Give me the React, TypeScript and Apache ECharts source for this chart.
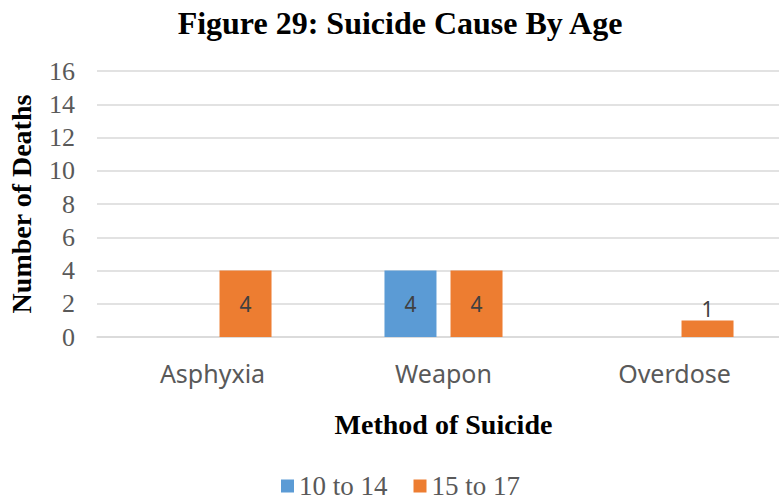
import React, { useEffect, useRef } from "react";
import * as echarts from "echarts";

const categories = ["Asphyxia", "Weapon", "Overdose"];
const seriesNames = ["10 to 14", "15 to 17"];
const age10to14 = [0, 4, 0];
const age15to17 = [4, 4, 1];
const yTicks = { min: 0, max: 16, interval: 2 };

const colors = ["#5B9BD5", "#ED7D31"];
const serif = "'Liberation Serif', 'Times New Roman', serif";
const sans = "'Noto Sans', 'Open Sans', sans-serif";

function buildData(values: number[]) {
  return values.map((v) => {
    if (!v) return { value: "-" };
    const small = v < 2;
    return {
      value: v,
      label: {
        show: true,
        position: small ? "top" : "inside",
        distance: 1,
        formatter: "{c}",
        color: "#404040",
        fontFamily: sans,
        fontSize: 21,
      },
    };
  });
}

export default function App() {
  const ref = useRef<HTMLDivElement>(null);
  useEffect(() => {
    if (!ref.current) return;
    const chart = echarts.init(ref.current, null, { renderer: "svg" });
    chart.setOption({
      animation: false,
      backgroundColor: "#ffffff",
      color: colors,
      title: {
        text: "Figure 29: Suicide Cause By Age",
        left: 395,
        top: 2,
        textAlign: "center",
        textStyle: { fontFamily: serif, fontWeight: "bold", fontSize: 32, color: "#000" },
      },
      legend: {
        data: seriesNames,
        left: 276,
        top: 466,
        itemWidth: 13,
        itemHeight: 13,
        itemGap: 26,
        icon: "rect",
        textStyle: { fontFamily: serif, fontSize: 27, color: "#595959", lineHeight: 30 },
      },
      grid: { left: 97, right: 10, top: 71, bottom: 163, containLabel: false, outerBoundsMode: "none" },
      xAxis: {
        type: "category",
        data: categories,
        axisLine: { show: true, lineStyle: { color: "#d9d9d9", width: 1.5 } },
        axisTick: { show: false },
        axisLabel: { fontFamily: sans, fontSize: 25, color: "#595959", margin: 23 },
        name: "Method of Suicide",
        nameLocation: "middle",
        nameGap: 73,
        nameTextStyle: { fontFamily: serif, fontWeight: "bold", fontSize: 28, color: "#000" },
      },
      yAxis: {
        type: "value",
        min: yTicks.min,
        max: yTicks.max,
        interval: yTicks.interval,
        axisLine: { show: false },
        axisTick: { show: false },
        splitLine: { lineStyle: { color: "#d9d9d9", width: 1.5 } },
        axisLabel: { fontFamily: serif, fontSize: 26, color: "#595959", margin: 22 },
        name: "Number of Deaths",
        nameLocation: "middle",
        nameRotate: 90,
        nameGap: 62,
        nameTextStyle: { fontFamily: serif, fontWeight: "bold", fontSize: 28, color: "#000" },
      },
      series: [
        {
          name: seriesNames[0],
          type: "bar",
          data: buildData(age10to14),
          barWidth: 52,
          barGap: "27%",
        },
        {
          name: seriesNames[1],
          type: "bar",
          data: buildData(age15to17),
          barWidth: 52,
          barGap: "27%",
        },
      ],
    });
    return () => chart.dispose();
  }, []);
  return (
    <div style={{ position: "absolute", left: 0, top: 0, width: 779, height: 500, overflow: "hidden" }}>
      <div ref={ref} style={{ width: 800, height: 500 }} />
    </div>
  );
}
